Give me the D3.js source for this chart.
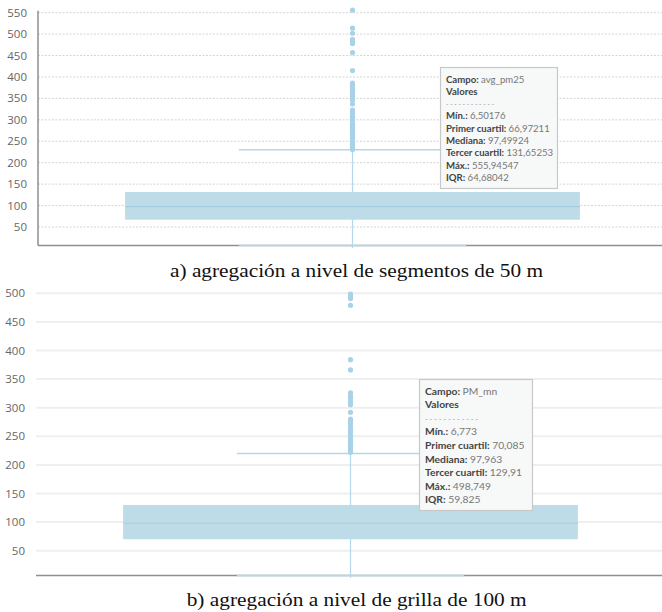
<!DOCTYPE html>
<html><head><meta charset="utf-8">
<script src="https://cdn.jsdelivr.net/npm/d3@7"></script>
<style>
body{margin:0;background:#fff;}
svg{display:block;}
</style></head>
<body>
<svg id="chart" width="662" height="612"></svg>
<script>
// ---- data ----
const categories = ["avg_pm25", "PM_mn"];
const ticksA = [50,100,150,200,250,300,350,400,450,500,550];
const ticksB = [50,100,150,200,250,300,350,400,450,500];
const statsA = {min:6.50176, q1:66.97211, med:97.49924, q3:131.65253, max:555.94547, iqr:64.68042, whiskerHi:230};
const statsB = {min:6.773, q1:70.085, med:97.963, q3:129.91, max:498.749, iqr:59.825, whiskerHi:219.8};
const outliersA = [555.9, 514, 502, 488, 482, 478, 457, 415, 386, 382, 378, 374, 370, 366, 362, 358, 354, 350, 346, 337, 323, 318, 314, 310, 306, 302, 298, 294, 290, 286, 282, 278, 274, 270, 266, 262, 258, 254, 250, 246, 242, 238, 234, 231];
const outliersB = [498.7, 495, 491, 479, 384, 366, 326, 320, 315, 310, 305, 292, 280, 276, 272, 266, 262, 258, 254, 250, 246, 242, 238, 234, 230, 226, 222];
const tipA = [["Campo: ","avg_pm25"],["Valores",""],["",""],["Mín.: ","6,50176"],["Primer cuartil: ","66,97211"],["Mediana: ","97,49924"],["Tercer cuartil: ","131,65253"],["Máx.: ","555,94547"],["IQR: ","64,68042"]];
const tipB = [["Campo: ","PM_mn"],["Valores",""],["",""],["Mín.: ","6,773"],["Primer cuartil: ","70,085"],["Mediana: ","97,963"],["Tercer cuartil: ","129,91"],["Máx.: ","498,749"],["IQR: ","59,825"]];
const captions = ["a) agregación a nivel de segmentos de 50 m", "b) agregación a nivel de grilla de 100 m"];

const svg = d3.select("#chart");
const boxFill = "#bedbe8", medCol = "#a6cde0", lineCol = "#b3d8ec", dotCol = "#a9d2e8";

function panel(cfg){
  const g = svg.append("g");
  const x = d3.scaleBand().domain([cfg.cat]).range([cfg.axisX, cfg.axisX+629]);
  const y = d3.scaleLinear().domain([0, cfg.top]).range([cfg.y0, cfg.yTop]);
  const cx = x(cfg.cat) + x.bandwidth()/2;
  const bw = x.bandwidth()*0.723;
  const ww = bw/2;
  const s = cfg.stats;
  // gridlines
  g.append("g").selectAll("line").data(cfg.ticks).join("line")
    .attr("x1", cfg.axisX).attr("x2", 662)
    .attr("y1", d=>y(d)).attr("y2", d=>y(d))
    .attr("stroke", cfg.dotted ? "#d4d4d4" : "#efefef")
    .attr("stroke-width", cfg.dotted ? 1 : 2)
    .attr("stroke-dasharray", cfg.dotted ? "2,1.5" : null);
  // tick labels
  g.append("g").selectAll("text").data(cfg.ticks).join("text")
    .attr("x", cfg.labelX).attr("y", d=>y(d)).attr("dy","0.35em")
    .attr("text-anchor","end").attr("font-family","'Open Sans', sans-serif")
    .attr("font-size", 11.5).attr("fill","#666").text(d=>d);
  // y axis line
  if (cfg.yAxis) g.append("line").attr("x1",cfg.axisX).attr("x2",cfg.axisX)
      .attr("y1", y(cfg.top)-2).attr("y2", y(s.min)).attr("stroke","#8f8f8f").attr("stroke-width",1.5);
  // x axis line
  g.append("line").attr("x1",cfg.axisX).attr("x2",662).attr("y1",y(s.min)).attr("y2",y(s.min))
    .attr("stroke","#8f8f8f").attr("stroke-width",1.5);
  // whisker vertical
  g.append("line").attr("x1",cx).attr("x2",cx).attr("y1",y(s.min)+2.5).attr("y2",y(s.whiskerHi))
    .attr("stroke",lineCol).attr("stroke-width",1.2);
  // whisker caps
  [s.min, s.whiskerHi].forEach(v=>{
    g.append("line").attr("x1",cx-ww/2).attr("x2",cx+ww/2).attr("y1",y(v)).attr("y2",y(v))
      .attr("stroke",lineCol).attr("stroke-width",1.5);
  });
  // box
  g.append("rect").attr("x",cx-bw/2).attr("width",bw).attr("y",y(s.q3)).attr("height",y(s.q1)-y(s.q3))
    .attr("fill",boxFill);
  g.append("line").attr("x1",cx-bw/2).attr("x2",cx+bw/2).attr("y1",y(s.med)).attr("y2",y(s.med))
    .attr("stroke",medCol).attr("stroke-width",1.2);
  // outliers
  g.append("g").selectAll("circle").data(cfg.out).join("circle")
    .attr("cx",cx).attr("cy",d=>y(d)).attr("r",2.6).attr("fill",dotCol);
  // tooltip
  const t = cfg.tip;
  const tg = g.append("g");
  tg.append("rect").attr("x",t.x+0.5).attr("y",t.y+0.5).attr("width",t.w).attr("height",t.h)
    .attr("fill","#f7f8f8").attr("stroke","#c8c8c8").attr("stroke-width",1.2);
  cfg.tipLines.forEach((ln,i)=>{
    const txt = tg.append("text").attr("x",t.x+t.pad).attr("y",t.y+t.first+i*t.lh)
      .attr("font-family","Lato, sans-serif").attr("font-size",t.fs);
    if (i===2){ txt.attr("fill","#999").text("- - - - - - - - - - - -").attr("font-size",t.fs-3); return; }
    txt.append("tspan").attr("font-weight","bold").attr("fill","#444").text(ln[0]);
    txt.append("tspan").attr("fill","#777").text(ln[1]);
  });
  // caption
  svg.append("text").attr("x",cfg.capX).attr("y",cfg.capY).attr("text-anchor","middle")
    .attr("font-family","'Liberation Serif','Times New Roman',serif").attr("font-size",18.5)
    .attr("fill","#111").attr("textLength",cfg.capW).attr("lengthAdjust","spacingAndGlyphs").text(cfg.caption);
}

panel({cat:categories[0], axisX:38, labelX:27, y0:248.4, yTop:12.7, top:550, ticks:ticksA, stats:statsA,
  out:outliersA, dotted:true, yAxis:true, tipLines:tipA,
  tip:{x:440,y:67,w:117,h:121,pad:6,first:15.5,lh:12.3,fs:9.6},
  caption:captions[0], capX:356.5, capY:277, capW:373});
panel({cat:categories[1], axisX:36, labelX:25, y0:579.3, yTop:293.3, top:500, ticks:ticksB, stats:statsB,
  out:outliersB, dotted:false, yAxis:false, tipLines:tipB,
  tip:{x:419,y:379,w:113,h:131,pad:6,first:15.5,lh:13.6,fs:10.3},
  caption:captions[1], capX:356.7, capY:606, capW:340});
</script>
</body></html>
